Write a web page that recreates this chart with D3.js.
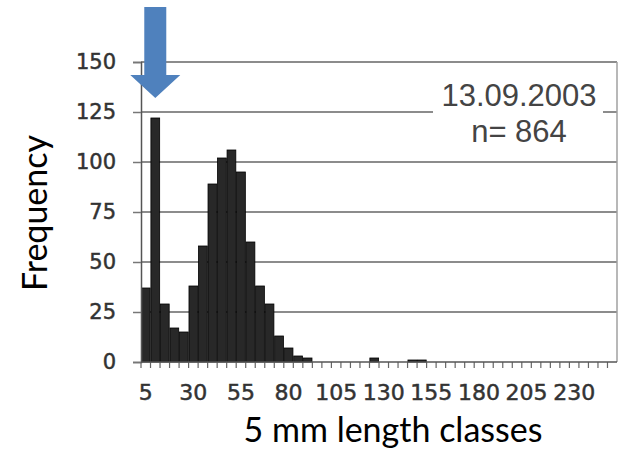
<!DOCTYPE html>
<html>
<head>
<meta charset="utf-8">
<script src="https://cdn.jsdelivr.net/npm/d3@7"></script>
<style>
  body { margin: 0; background: #fff; }
  svg { display: block; }
</style>
</head>
<body>
<svg width="619" height="453"></svg>
<script>
// length classes (mm) and counts
const classes = [5, 10, 15, 20, 25, 30, 35, 40, 45, 50,
  55, 60, 65, 70, 75, 80, 85, 90, 95, 100,
  105, 110, 115, 120, 125, 130, 135, 140, 145, 150,
  155, 160, 165, 170, 175, 180, 185, 190, 195, 200,
  205, 210, 215, 220, 225, 230, 235, 240, 245, 250];
const counts = [37, 122, 29, 17, 15, 38, 58, 89, 102, 106,
  95, 60, 38, 29, 13, 7, 3, 2, 0, 0,
  0, 0, 0, 0, 2, 0, 0, 0, 1, 1,
  0, 0, 0, 0, 0, 0, 0, 0, 0, 0,
  0, 0, 0, 0, 0, 0, 0, 0, 0, 0];
const yTicks = [0, 25, 50, 75, 100, 125, 150];
const xLabels = [5, 30, 55, 80, 105, 130, 155, 180, 205, 230];
const dateLabel = '13.09.2003';
const nLabel = 'n= 864';

const svg = d3.select('svg');
const plotLeft = 141, plotRight = 617, plotTop = 62, plotBottom = 362;

const x = d3.scaleBand()
  .domain(classes)
  .range([plotLeft, plotRight])
  .paddingInner(0.08)
  .paddingOuter(0.04);

const y = d3.scaleLinear()
  .domain([0, 150])
  .range([plotBottom, plotTop]);

// gridlines
svg.append('g')
  .selectAll('line')
  .data(yTicks.filter(d => d > 0))
  .join('line')
  .attr('x1', plotLeft).attr('x2', plotRight)
  .attr('y1', d => y(d)).attr('y2', d => y(d))
  .attr('stroke', '#8c8c8c')
  .attr('stroke-width', 2);

// right border
svg.append('line')
  .attr('x1', plotRight).attr('x2', plotRight)
  .attr('y1', y(150)).attr('y2', y(0))
  .attr('stroke', '#a0a0a0')
  .attr('stroke-width', 1.5);

// bars
svg.append('g')
  .selectAll('rect')
  .data(classes.map((c, i) => ({c, v: counts[i]})).filter(d => d.v > 0))
  .join('rect')
  .attr('x', d => x(d.c))
  .attr('y', d => y(d.v))
  .attr('width', x.bandwidth())
  .attr('height', d => y(0) - y(d.v))
  .attr('fill', '#282828')
  .attr('stroke', '#000')
  .attr('stroke-width', 0.8);

// y axis
const yAxis = svg.append('g')
  .attr('transform', `translate(${plotLeft},0)`)
  .call(d3.axisLeft(y).tickValues(yTicks).tickSize(8).tickPadding(17));
yAxis.select('.domain').attr('stroke', '#555').attr('stroke-width', 1.5);
yAxis.selectAll('.tick line').attr('stroke', '#777').attr('stroke-width', 1.5);
yAxis.selectAll('.tick text')
  .attr('font-family', 'DejaVu Sans')
  .attr('font-size', 21)
  .attr('fill', '#333')
  .attr('stroke', '#333')
  .attr('stroke-width', 0.5);

// x axis: labels every 5th class, ticks between classes
const step = x.step();
const xAxis = svg.append('g')
  .attr('transform', `translate(0,${plotBottom})`)
  .call(d3.axisBottom(x).tickValues(xLabels).tickSize(0).tickPadding(22));
xAxis.select('.domain').remove();
xAxis.selectAll('.tick text')
  .attr('font-family', 'DejaVu Sans')
  .attr('font-size', 22)
  .attr('fill', '#333')
  .attr('stroke', '#333')
  .attr('stroke-width', 0.5);

svg.append('g')
  .selectAll('line')
  .data(classes)
  .join('line')
  .attr('x1', d => x(d) - step * x.paddingInner() / 2)
  .attr('x2', d => x(d) - step * x.paddingInner() / 2)
  .attr('y1', plotBottom).attr('y2', plotBottom + 6)
  .attr('stroke', '#666')
  .attr('stroke-width', 1.2);

svg.append('line')
  .attr('x1', plotLeft).attr('x2', plotRight)
  .attr('y1', plotBottom).attr('y2', plotBottom)
  .attr('stroke', '#555')
  .attr('stroke-width', 1.5);

// annotation box
svg.append('rect')
  .attr('x', 433).attr('y', 72)
  .attr('width', 170).attr('height', 78)
  .attr('fill', '#fff');
svg.append('text')
  .attr('x', 519).attr('y', 106)
  .attr('text-anchor', 'middle')
  .attr('font-family', 'Liberation Sans')
  .attr('font-size', 31)
  .attr('fill', '#444')
  .text(dateLabel);
svg.append('text')
  .attr('x', 519).attr('y', 142)
  .attr('text-anchor', 'middle')
  .attr('font-family', 'Liberation Sans')
  .attr('font-size', 31)
  .attr('fill', '#444')
  .text(nLabel);

// axis titles
svg.append('text')
  .attr('transform', 'translate(47,213) rotate(-90)')
  .attr('text-anchor', 'middle')
  .attr('font-family', 'Lato')
  .attr('font-size', 34)
  .attr('fill', '#000')
  .text('Frequency');
svg.append('text')
  .attr('x', 393).attr('y', 442)
  .attr('text-anchor', 'middle')
  .attr('font-family', 'Lato')
  .attr('font-size', 34)
  .attr('fill', '#000')
  .text('5 mm length classes');

// blue arrow pointing at the first peak
const ax = x(10) + x.bandwidth() / 2;
svg.append('path')
  .attr('d', `M${ax - 11},7 H${ax + 11} V75 H${ax + 25} L${ax},98 L${ax - 25},75 H${ax - 11} Z`)
  .attr('fill', '#4f81bd');
</script>
</body>
</html>
